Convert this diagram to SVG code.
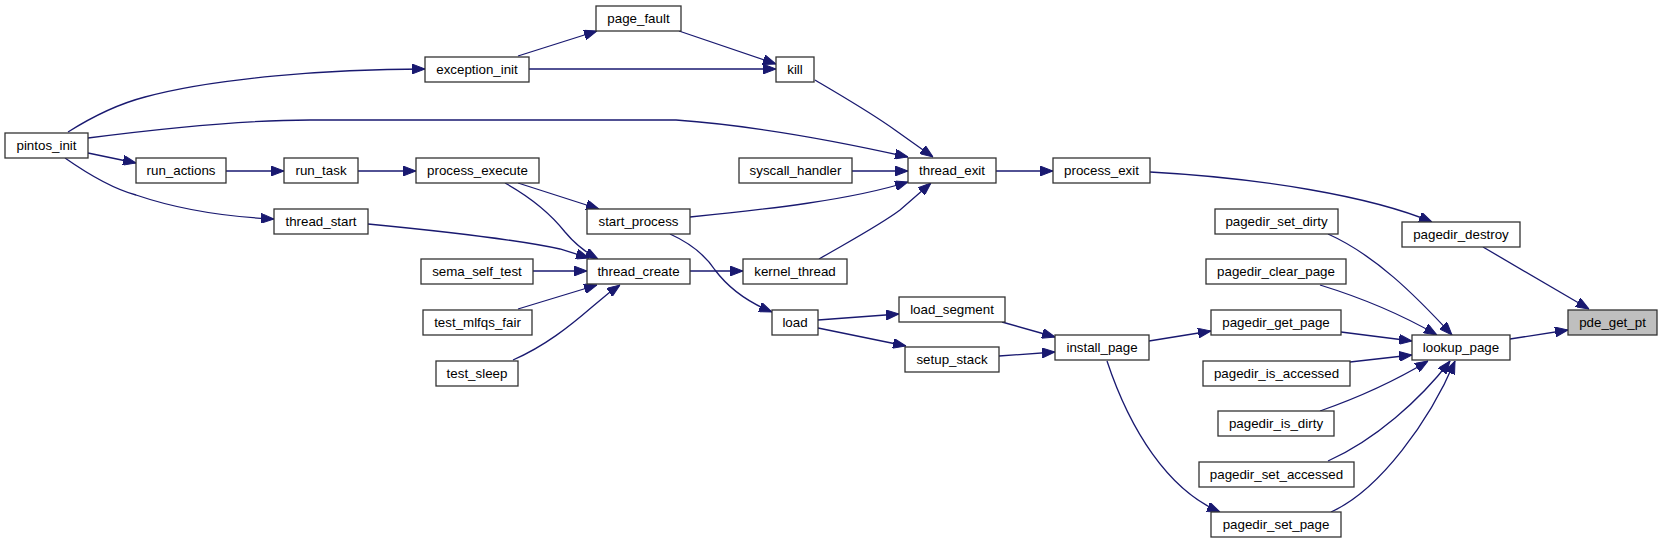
<svg xmlns="http://www.w3.org/2000/svg" width="1663" height="544" viewBox="0 0 1663 544">
<style>
.n rect{fill:#fff;stroke:#333;stroke-width:1.3}
.n text{font-family:"Liberation Sans",Arial,sans-serif;font-size:13.33px;text-anchor:middle;fill:#000}
#edges path{fill:none;stroke:#191970;stroke-width:1.3;marker-end:url(#ah)}
</style>
<defs>
<marker id="ah" viewBox="0 0 13 10" refX="13" refY="5" markerWidth="13" markerHeight="10" markerUnits="userSpaceOnUse" orient="auto">
<path d="M0,0 L13,5 L0,10 z" fill="#191970" stroke="#191970" stroke-width="1"/>
</marker>
</defs>
<rect width="1663" height="544" fill="#fff"/>
<g id="edges">
<path d="M518,56 L597,31"/>
<path d="M679,31 L776,64"/>
<path d="M529,69 L776,69"/>
<path d="M68,132 C95,115 118,104 145,97 C215,78 330,69 425,69"/>
<path d="M88,138 C150,130 240,120 310,120 L676,120 C760,126 850,144 908,157"/>
<path d="M88,153 L136,163"/>
<path d="M226,171 L284,171"/>
<path d="M358,171 L416,171"/>
<path d="M65,158 C85,172 110,188 136,195 C180,210 230,217 274,219"/>
<path d="M518,183 L599,209"/>
<path d="M505,183 C530,197 550,213 565,232 C575,244 585,252 598,259"/>
<path d="M368,224 C430,230 510,238 560,249 L589,258"/>
<path d="M533,271 L587,271"/>
<path d="M518,309 L597,285"/>
<path d="M513,360 C545,346 570,326 592,307 L610,292 L620,285"/>
<path d="M690,271 L743,271"/>
<path d="M690,217 C770,209 850,200 908,182"/>
<path d="M819,259 C850,241 880,225 900,210 Q915,197 931,183"/>
<path d="M852,171 L908,171"/>
<path d="M815,80 C840,95 870,112 895,130 L933,157"/>
<path d="M996,171 L1053,171"/>
<path d="M670,234 C690,243 705,255 715,270 C730,290 750,303 772,312"/>
<path d="M818,320 L899,314"/>
<path d="M818,328 L906,346"/>
<path d="M1002,322 L1055,337"/>
<path d="M999,356 L1055,352"/>
<path d="M1149,341 L1211,331"/>
<path d="M1107,361 C1130,430 1168,490 1220,512"/>
<path d="M1328,234 C1375,255 1415,295 1452,335"/>
<path d="M1320,285 Q1385,305 1437,335"/>
<path d="M1341,332 L1412,341"/>
<path d="M1350,362 L1412,355"/>
<path d="M1320,411 Q1380,390 1428,361"/>
<path d="M1328,461 C1375,440 1420,400 1450,361"/>
<path d="M1331,512 C1380,490 1430,420 1455,361"/>
<path d="M1510,339 L1568,330"/>
<path d="M1150,172 C1260,178 1370,196 1432,222"/>
<path d="M1483,247 L1589,309"/>
</g>
<g id="pintos_init" class="n"><rect x="5" y="133" width="83" height="25"/><text x="46.5" y="150">pintos_init</text></g>
<g id="exception_init" class="n"><rect x="425" y="57" width="104" height="25"/><text x="477" y="74">exception_init</text></g>
<g id="page_fault" class="n"><rect x="596" y="6" width="85" height="25"/><text x="638.5" y="23">page_fault</text></g>
<g id="kill" class="n"><rect x="776" y="57" width="38" height="25"/><text x="795" y="74">kill</text></g>
<g id="run_actions" class="n"><rect x="136" y="158" width="90" height="25"/><text x="181" y="175">run_actions</text></g>
<g id="run_task" class="n"><rect x="284" y="158" width="74" height="25"/><text x="321" y="175">run_task</text></g>
<g id="process_execute" class="n"><rect x="416" y="158" width="123" height="25"/><text x="477.5" y="175">process_execute</text></g>
<g id="thread_start" class="n"><rect x="274" y="209" width="94" height="25"/><text x="321" y="226">thread_start</text></g>
<g id="start_process" class="n"><rect x="587" y="209" width="103" height="25"/><text x="638.5" y="226">start_process</text></g>
<g id="thread_create" class="n"><rect x="587" y="259" width="103" height="25"/><text x="638.5" y="276">thread_create</text></g>
<g id="sema_self_test" class="n"><rect x="421" y="259" width="112" height="25"/><text x="477" y="276">sema_self_test</text></g>
<g id="test_mlfqs_fair" class="n"><rect x="423" y="310" width="109" height="25"/><text x="477.5" y="327">test_mlfqs_fair</text></g>
<g id="test_sleep" class="n"><rect x="436" y="361" width="82" height="25"/><text x="477" y="378">test_sleep</text></g>
<g id="kernel_thread" class="n"><rect x="743" y="259" width="104" height="25"/><text x="795" y="276">kernel_thread</text></g>
<g id="load" class="n"><rect x="772" y="310" width="46" height="25"/><text x="795" y="327">load</text></g>
<g id="load_segment" class="n"><rect x="899" y="297" width="106" height="25"/><text x="952" y="314">load_segment</text></g>
<g id="setup_stack" class="n"><rect x="905" y="347" width="94" height="25"/><text x="952" y="364">setup_stack</text></g>
<g id="install_page" class="n"><rect x="1055" y="335" width="94" height="25"/><text x="1102" y="352">install_page</text></g>
<g id="syscall_handler" class="n"><rect x="739" y="158" width="113" height="25"/><text x="795.5" y="175">syscall_handler</text></g>
<g id="thread_exit" class="n"><rect x="908" y="158" width="88" height="25"/><text x="952" y="175">thread_exit</text></g>
<g id="process_exit" class="n"><rect x="1053" y="158" width="97" height="25"/><text x="1101.5" y="175">process_exit</text></g>
<g id="pagedir_set_dirty" class="n"><rect x="1215" y="209" width="123" height="25"/><text x="1276.5" y="226">pagedir_set_dirty</text></g>
<g id="pagedir_destroy" class="n"><rect x="1402" y="222" width="118" height="25"/><text x="1461" y="239">pagedir_destroy</text></g>
<g id="pagedir_clear_page" class="n"><rect x="1206" y="259" width="140" height="25"/><text x="1276" y="276">pagedir_clear_page</text></g>
<g id="pagedir_get_page" class="n"><rect x="1211" y="310" width="130" height="25"/><text x="1276" y="327">pagedir_get_page</text></g>
<g id="pde_get_pt" class="n"><rect x="1568" y="310" width="89" height="25" style="fill:#bfbfbf"/><text x="1612.5" y="327">pde_get_pt</text></g>
<g id="lookup_page" class="n"><rect x="1412" y="335" width="98" height="25"/><text x="1461" y="352">lookup_page</text></g>
<g id="pagedir_is_accessed" class="n"><rect x="1203" y="361" width="147" height="25"/><text x="1276.5" y="378">pagedir_is_accessed</text></g>
<g id="pagedir_is_dirty" class="n"><rect x="1218" y="411" width="116" height="25"/><text x="1276" y="428">pagedir_is_dirty</text></g>
<g id="pagedir_set_accessed" class="n"><rect x="1199" y="462" width="155" height="25"/><text x="1276.5" y="479">pagedir_set_accessed</text></g>
<g id="pagedir_set_page" class="n"><rect x="1211" y="512" width="130" height="25"/><text x="1276" y="529">pagedir_set_page</text></g>
</svg>
